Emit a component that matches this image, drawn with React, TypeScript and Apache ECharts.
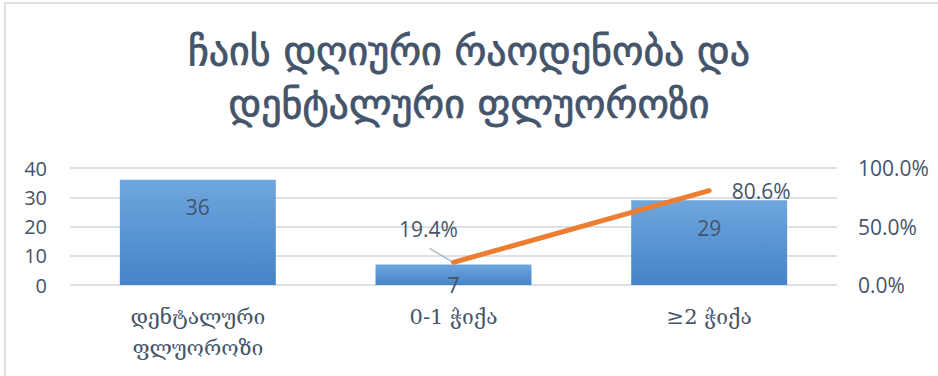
import React, { useEffect, useRef } from "react";
import * as echarts from "echarts";

const titleText = "ჩაის დღიური რაოდენობა და\nდენტალური ფლუოროზი";
const categories = ["დენტალური\nფლუოროზი", "0-1 ჭიქა", "≥2 ჭიქა"];
const barValues = [36, 7, 29];
const percentValues: (number | null)[] = [null, 19.4, 80.6];
const leftTicks = { min: 0, max: 40, interval: 10 };
const rightTicks = { min: 0, max: 100, interval: 50 };

const TEXT = "#44546a";
const NUMFONT = '"Open Sans", "Liberation Sans", sans-serif';

export default function App() {
  const ref = useRef<HTMLDivElement>(null);
  useEffect(() => {
    if (!ref.current) return;
    const chart = echarts.init(ref.current, null, { renderer: "svg" });
    chart.setOption({
      animation: false,
      backgroundColor: "#ffffff",
      title: {
        text: titleText,
        left: "center",
        top: 19,
        textStyle: {
          fontFamily: '"DejaVu Sans", sans-serif',
          fontSize: 40,
          fontWeight: "normal",
          color: TEXT,
          textBorderColor: TEXT,
          textBorderWidth: 0.8,
          lineHeight: 53,
        },
      },
      grid: { left: 70, right: 101, top: 168, bottom: 91 },
      xAxis: {
        type: "category",
        data: categories,
        axisLine: { show: false },
        axisTick: { show: false },
        axisLabel: {
          color: TEXT,
          fontSize: 21,
          fontFamily: '"DejaVu Serif", serif',
          lineHeight: 31,
          margin: 16,
        },
      },
      yAxis: [
        {
          type: "value",
          min: leftTicks.min,
          max: leftTicks.max,
          interval: leftTicks.interval,
          axisLine: { show: false },
          axisTick: { show: false },
          splitLine: { lineStyle: { color: "#dde1e7", width: 2 } },
          axisLabel: { color: TEXT, fontSize: 20, fontFamily: NUMFONT, margin: 23 },
        },
        {
          type: "value",
          min: rightTicks.min,
          max: rightTicks.max,
          interval: rightTicks.interval,
          position: "right",
          axisLine: { show: false },
          axisTick: { show: false },
          splitLine: { show: false },
          axisLabel: {
            color: TEXT,
            fontSize: 21,
            fontFamily: NUMFONT,
            margin: 21,
            formatter: (v: number) => v.toFixed(1) + "%",
          },
        },
      ],
      series: [
        {
          type: "bar",
          data: barValues.map((v, i) =>
            i === 1 ? { value: v, label: { distance: 10 } } : v
          ),
          barCategoryGap: "39%",
          itemStyle: {
            color: new echarts.graphic.LinearGradient(0, 0, 0, 1, [
              { offset: 0, color: "#6fa6dd" },
              { offset: 1, color: "#4584c8" },
            ]),
          },
          label: {
            show: true,
            position: "insideTop",
            distance: 17,
            color: TEXT,
            fontSize: 21,
            fontFamily: NUMFONT,
          },
          z: 2,
        },
        {
          type: "line",
          yAxisIndex: 1,
          data: percentValues.map((v, i) =>
            i === 2 ? { value: v, label: { position: "right", distance: 22 } } : v
          ),
          symbol: "circle",
          symbolSize: 1,
          itemStyle: { color: "#ed7d31" },
          lineStyle: { color: "#ed7d31", width: 5, cap: "round" },
          label: {
            show: true,
            position: "top",
            distance: 5,
            color: TEXT,
            fontSize: 21,
            fontFamily: NUMFONT,
            formatter: (p: any) => p.value.toFixed(1) + "%",
          },
          labelLayout: (p: any) => (p.dataIndex === 1 ? { dx: -25, dy: -17 } : {}),
          z: 5,
        },
      ],
    });
    const anchor = chart.convertToPixel({ seriesIndex: 1 }, [1, percentValues[1] as number]) as number[];
    chart.setOption({
      graphic: [
        {
          type: "rect",
          shape: { x: 5, y: 3, width: 1000, height: 500 },
          style: { fill: "none", stroke: "#dde2e8", lineWidth: 2 },
          silent: true,
          z: -10,
        },
        {
          type: "line",
          shape: { x1: anchor[0] - 24, y1: anchor[1] - 14, x2: anchor[0] - 2, y2: anchor[1] - 1 },
          style: { stroke: "#aab8c6", lineWidth: 1.5 },
          silent: true,
          z: 1,
        },
      ],
    });
    return () => chart.dispose();
  }, []);
  return <div ref={ref} style={{ width: 938, height: 376, position: "absolute", left: 0, top: 0 }} />;
}
